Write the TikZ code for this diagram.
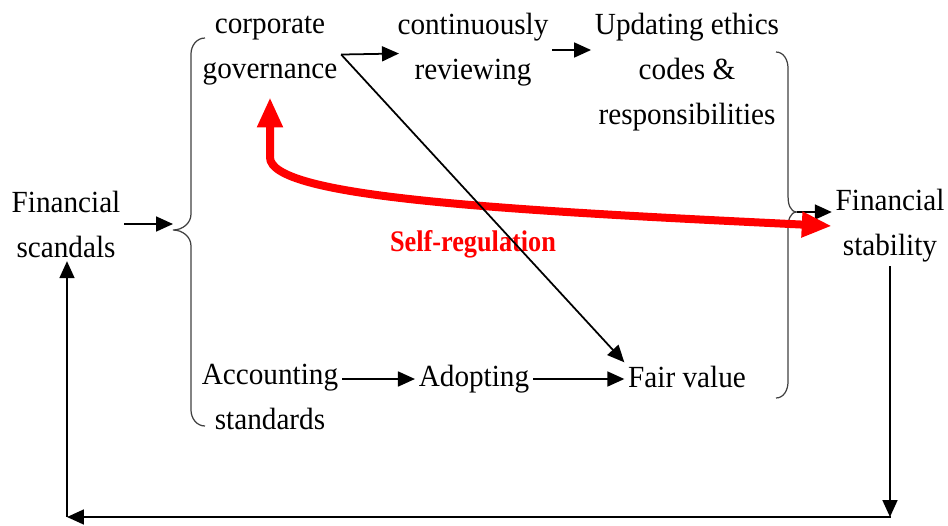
\documentclass[tikz,border=0pt]{standalone}
\usepackage{fontspec}
\setmainfont{Liberation Serif}[FakeStretch=0.95]
\newfontfamily\regfont{Liberation Serif}[FakeStretch=0.88]
\usetikzlibrary{arrows.meta}

\begin{document}
\begin{tikzpicture}[x=0.02cm,y=-0.02cm,
    box/.style={align=center,inner sep=2pt,font=\fontsize{17.5}{25.6}\selectfont},
    arr/.style={-{Triangle[length=0.34cm,width=0.3cm]},line width=1pt},
    bracepath/.style={line width=0.7pt,black!75},
    selfreg/.style={{Triangle[length=0.6cm,width=0.48cm]}-{Triangle[length=0.6cm,width=0.48cm]},line width=0.16cm,red}]
  \useasboundingbox (0,0) rectangle (948,525);

  \node[box] (scandals) at (66,224) {Financial\\scandals};
  \node[box] (corp) at (270,51) {corporate\\governance};
  \node[box] (cont) at (473,50) {continuously\\reviewing};
  \node[box] (upd) at (687,72) {Updating ethics\\codes \&\\responsibilities};
  \node[box] (acc) at (270,397) {Accounting\\standards};
  \node[box] (adopt) at (474,379) {Adopting};
  \node[box] (fair) at (687,377) {Fair value};
  \node[box] (stab) at (890,226) {Financial\\stability};
  \node[font=\regfont\bfseries\fontsize{17}{20}\selectfont,text=red] (reg) at (473,244) {Self-regulation};

  % braces
  \coordinate (lb) at (173,230);
  \coordinate (rb) at (797,212);
  \draw[bracepath] (205,38) to[out=180,in=90] (191,54) -- (191,214) to[out=-90,in=0] (lb)
    to[out=0,in=90] (191,246) -- (191,410) to[out=-90,in=180] (205,426);
  \draw[bracepath] (776,52) to[out=0,in=90] (788,68) -- (788,196) to[out=-90,in=180] (rb)
    to[out=180,in=90] (788,228) -- (788,382) to[out=-90,in=0] (776,398);

  \draw[arr] (scandals.east) -- (scandals.east -| lb);
  \draw[arr] ([yshift=-2pt]corp.east) -- ([yshift=-2pt,xshift=3pt]cont.west);
  \draw[arr] (cont.east) -- (upd.west |- cont.east);
  \draw[arr] (adopt.west -| acc.east) -- (adopt.west);
  \draw[arr] (adopt.east) -- (adopt.east -| fair.west);
  \draw[arr] (rb) -- (rb -| stab.west);

  \draw[selfreg] ([yshift=-0.16cm]corp.south) -- ++(0,60) .. controls +(0,40) and (500,210) .. (stab.west);
  \draw[arr] ([yshift=-2pt]corp.east) -- (fair.north west);

  % feedback loop
  \coordinate (br) at (891,517);
  \coordinate (bl) at (67,517);
  \draw[arr] (stab.south) -- (stab.south |- br);
  \draw[arr] (br) -- (bl);
  \draw[arr] (bl) -- (bl |- scandals.south);
\end{tikzpicture}
\end{document}
